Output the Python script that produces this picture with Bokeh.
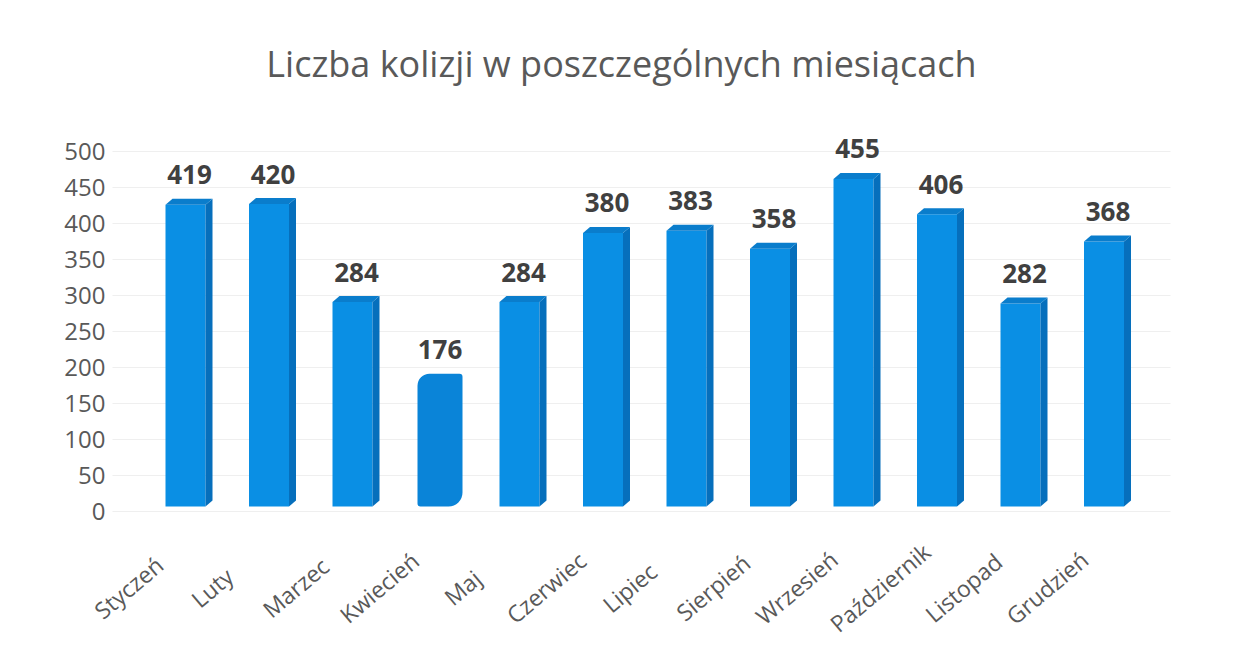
from bokeh.plotting import figure
from bokeh.models import Range1d, ColumnDataSource
from bokeh.embed import file_html
from bokeh.resources import INLINE
from bokeh.core.properties import value

# ---- data ----
months = ["Styczeń", "Luty", "Marzec", "Kwiecień", "Maj", "Czerwiec", "Lipiec",
          "Sierpień", "Wrzesień", "Październik", "Listopad", "Grudzień"]
counts = [419, 420, 284, 176, 284, 380, 383, 358, 455, 406, 282, 368]
y_ticks = [0, 50, 100, 150, 200, 250, 300, 350, 400, 450, 500]
title_text = "Liczba kolizji w poszczególnych miesiącach"
highlight = "Kwiecień"

# ---- layout (pixels) ----
W, H = 1219, 641
PX_X = 83.5          # px per category
PX_Y = 0.72          # px per unit
Y0 = 506             # px of value 0
FIRST_C = 185        # px of first category centre

x_start = 0.5 - FIRST_C / PX_X
x_end = x_start + W / PX_X
y_start = -(H - Y0) / PX_Y
y_end = Y0 / PX_Y


def px_x(px):
    return x_start + px / PX_X


FRONT = "#0A8FE4"
SIDE = "#066FBC"
TOP = "#0A7DCC"
HILITE = "#0A84D8"

hw = 20 / PX_X
dx = 7 / PX_X
dy = 6 / PX_Y

p = figure(width=W, height=H, output_backend="svg", toolbar_location=None,
           x_range=Range1d(x_start, x_end), y_range=Range1d(y_start, y_end),
           min_border_left=0, min_border_right=0, min_border_top=0,
           min_border_bottom=0, background_fill_color="white",
           border_fill_color="white")
p.outline_line_color = None
p.xaxis.visible = False
p.yaxis.visible = False
p.xgrid.grid_line_color = None
p.ygrid.grid_line_color = None

tick_shift = 5 / PX_Y
# faint gridlines
p.segment(x0=[px_x(112)] * len(y_ticks), x1=[px_x(1170)] * len(y_ticks),
          y0=[t - tick_shift for t in y_ticks], y1=[t - tick_shift for t in y_ticks],
          line_color="#efefef", line_width=1)

# y tick labels
tick_src = ColumnDataSource(dict(x=[px_x(105)] * len(y_ticks),
                                 y=[t - tick_shift for t in y_ticks],
                                 t=[str(t) for t in y_ticks]))
p.text(x="x", y="y", text="t", source=tick_src, text_align="right",
       text_baseline="middle", text_font=value("Open Sans"),
       text_font_size="24px", text_color="#595959")

centers = [i + 0.5 for i in range(len(months))]

# 3D bars
fl, fr, ft = [], [], []
side_xs, side_ys, top_xs, top_ys = [], [], [], []
for c, v, m in zip(centers, counts, months):
    if m == highlight:
        continue
    fl.append(c - hw); fr.append(c + hw); ft.append(v)
    side_xs.append([c + hw, c + hw + dx, c + hw + dx, c + hw])
    side_ys.append([0, dy, v + dy, v])
    top_xs.append([c - hw, c - hw + dx, c + hw + dx, c + hw])
    top_ys.append([v, v + dy, v + dy, v])

p.quad(left=fl, right=fr, bottom=0, top=ft, fill_color=FRONT, line_color=None)
p.patches(xs=side_xs, ys=side_ys, fill_color=SIDE, line_color=None)
p.patches(xs=top_xs, ys=top_ys, fill_color=TOP, line_color=None)

# highlighted (rounded) bar
hi = months.index(highlight)
p.vbar(x=[centers[hi] + 4 / PX_X], width=45 / PX_X, bottom=0,
       top=[counts[hi] + dy], fill_color=HILITE, line_color=None,
       border_radius=(12, 3, 14, 3))

# value labels
val_src = ColumnDataSource(dict(
    x=[c + 4 / PX_X for c in centers],
    y=[v + dy + 24 / PX_Y for v in counts],
    t=[str(v) for v in counts]))
p.text(x="x", y="y", text="t", source=val_src, text_align="center",
       text_baseline="alphabetic", text_font=value("Open Sans"),
       text_font_size="26px", text_font_style="bold", text_color="#404040")

# category labels (rotated, centred below each bar's left)
cat_src = ColumnDataSource(dict(
    x=[c - 57 / PX_X for c in centers],
    y=[-(587 - Y0) / PX_Y] * len(centers),
    t=months))
p.text(x="x", y="y", text="t", source=cat_src, angle=0.70,
       text_align="center", text_baseline="middle",
       text_font=value("Open Sans"), text_font_size="23px",
       text_color="#595959")

# title
title_src = ColumnDataSource(dict(x=[px_x(621)], y=[(Y0 - 63) / PX_Y],
                                  t=[title_text]))
p.text(x="x", y="y", text="t", source=title_src, text_align="center",
       text_baseline="middle", text_font=value("Open Sans"),
       text_font_size="36px", text_color="#595959")

open("out.html", "w").write(file_html(p, INLINE))
